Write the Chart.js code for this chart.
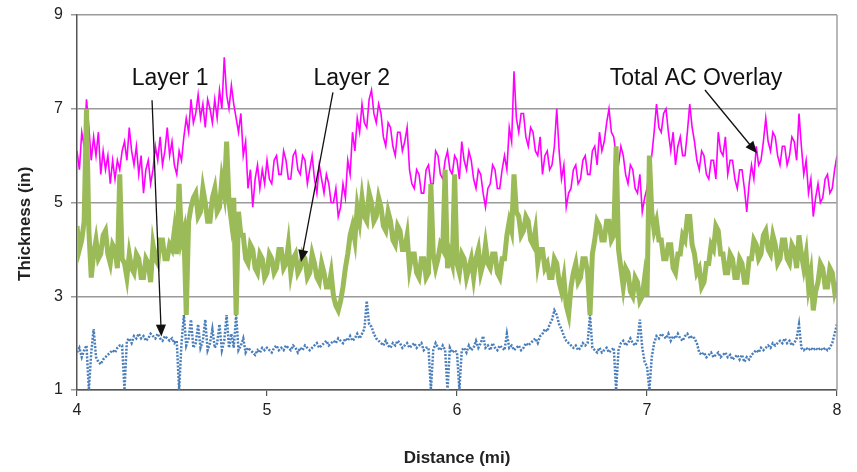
<!DOCTYPE html>
<html>
<head>
<meta charset="utf-8">
<title>Thickness vs distance</title>
<script src="https://cdn.jsdelivr.net/npm/chart.js@4.4.1/dist/chart.umd.min.js"></script>
<style>
  html, body { margin: 0; padding: 0; background: #fff; }
  #wrap { width: 857px; height: 472px; position: relative; }
</style>
</head>
<body>
<div id="wrap"><canvas id="thicknessChart"></canvas></div>
<script>
// readings every 0.0125 mi from 4 to 8
const startMi = 4;
const stepMi = 0.0125;

// Total AC Overlay (in)
const totalAC = [
  6.1, 5.7, 6.5, 6.2, 7.2, 6.6, 5.9, 6.4, 6.0, 6.5, 5.6, 6.1, 5.7, 6.0, 5.4, 5.9, 5.5, 5.9, 5.7, 6.1,
  6.3, 5.9, 6.6, 6.1, 5.8, 6.2, 5.6, 6.0, 5.2, 5.7, 5.9, 5.4, 5.7, 6.2, 5.9, 6.4, 5.8, 6.1, 6.6, 6.0,
  6.3, 5.8, 5.6, 6.1, 5.9, 6.4, 6.8, 6.5, 7.2, 6.7, 6.9, 7.3, 6.8, 7.1, 6.6, 7.2, 7.0, 6.7, 7.2, 6.8,
  7.4, 7.0, 8.1, 7.3, 7.0, 7.5, 7.1, 6.8, 6.5, 6.9, 6.0, 6.3, 5.3, 5.7, 4.9, 5.5, 5.8, 5.3, 5.7, 5.4,
  5.9, 5.5, 5.4, 5.9, 6.0, 5.6, 5.6, 6.1, 5.9, 5.5, 5.5, 6.0, 6.1, 5.7, 5.6, 6.0, 5.9, 5.4, 5.7, 6.0,
  5.5, 5.2, 5.8, 5.5, 5.2, 5.6, 5.4, 5.0, 5.0, 5.3, 4.7, 4.9, 5.4, 5.1, 5.9, 5.6, 6.5, 6.1, 6.8, 6.5,
  7.1, 6.7, 6.6, 7.2, 7.4, 6.9, 6.7, 7.1, 6.9, 6.4, 6.2, 6.7, 6.6, 6.2, 6.0, 6.5, 6.5, 6.1, 6.3, 6.6,
  5.7, 5.4, 5.3, 5.7, 5.6, 5.2, 5.2, 5.7, 5.8, 5.4, 5.4, 6.1, 6.0, 5.6, 5.5, 5.9, 6.1, 5.7, 5.6, 6.0,
  5.9, 5.5, 6.3, 5.9, 5.7, 6.1, 5.9, 5.5, 5.3, 5.7, 5.6, 5.2, 4.9, 5.3, 5.4, 5.8, 5.7, 5.3, 5.3, 5.7,
  6.0, 5.7, 6.6, 6.3, 7.8, 6.8, 6.5, 6.9, 6.9, 6.4, 6.2, 6.6, 6.5, 6.1, 6.0, 6.4, 5.6, 6.0, 6.1, 5.7,
  5.8, 6.2, 7.0, 6.1, 5.5, 5.8, 4.9, 5.2, 5.3, 5.7, 5.8, 5.4, 5.5, 5.9, 6.0, 5.6, 5.6, 6.1, 6.2, 5.8,
  6.5, 6.1, 6.3, 6.7, 7.0, 6.5, 6.4, 6.0, 5.8, 6.2, 6.0, 5.6, 5.4, 5.8, 5.7, 5.3, 5.2, 5.6, 4.8, 5.1,
  5.3, 5.7, 6.0, 6.5, 7.1, 6.6, 6.5, 6.9, 7.0, 6.5, 6.1, 6.5, 5.8, 6.2, 6.4, 6.0, 6.0, 6.5, 7.1, 6.6,
  6.3, 5.9, 5.7, 6.1, 6.0, 5.6, 5.5, 5.9, 5.9, 5.5, 6.5, 6.1, 6.0, 6.4, 5.6, 5.9, 5.9, 5.5, 5.3, 5.7,
  5.7, 5.3, 4.8, 5.4, 5.8, 5.5, 6.2, 5.8, 5.9, 6.3, 6.8, 6.3, 6.1, 6.5, 6.4, 6.0, 5.8, 6.2, 6.2, 5.8,
  6.0, 6.4, 6.3, 5.9, 6.9, 6.2, 5.6, 5.9, 5.2, 5.5, 4.7, 5.1, 5.4, 5.0, 5.1, 5.5, 5.6, 5.2, 5.3, 5.7,
  6.0
];

// Layer 2 (in)
const layer2 = [
  4.5, 4.0, 4.2, 4.6, 7.0, 4.4, 3.4, 3.9, 4.2, 3.8, 3.9, 4.3, 4.4, 3.9, 3.7, 4.1, 4.0, 3.6, 5.6, 3.8,
  3.7, 3.4, 3.9, 3.6, 3.5, 3.9, 3.8, 3.4, 3.4, 3.8, 3.7, 3.3, 4.1, 3.8, 3.7, 4.2, 4.2, 3.8, 3.8, 4.1,
  4.0, 4.4, 3.9, 5.4, 4.2, 4.4, 2.6, 4.6, 4.9, 5.1, 5.2, 4.7, 4.8, 5.3, 5.0, 4.6, 4.6, 5.1, 5.3, 4.8,
  4.9, 5.5, 5.2, 6.3, 5.0, 4.6, 5.1, 2.6, 4.8, 4.3, 4.3, 3.8, 3.7, 4.1, 4.0, 3.6, 3.5, 3.9, 3.8, 3.4,
  3.5, 3.9, 3.8, 3.5, 3.6, 4.0, 4.0, 3.6, 3.7, 4.1, 3.5, 3.8, 3.9, 3.5, 3.6, 3.9, 3.8, 3.4, 3.5, 3.9,
  3.7, 3.4, 3.3, 3.7, 3.5, 3.2, 3.2, 3.5, 3.0, 2.8, 2.7, 2.9, 3.2, 3.6, 3.9, 4.3, 4.5, 4.2, 4.9, 4.6,
  5.1, 4.7, 4.6, 5.2, 5.0, 4.6, 4.7, 5.1, 4.9, 4.5, 4.4, 4.8, 4.6, 4.2, 4.1, 4.5, 4.4, 4.0, 4.0, 4.3,
  3.6, 3.9, 3.9, 3.5, 3.4, 3.8, 3.8, 3.4, 3.5, 5.4, 3.9, 3.6, 3.8, 4.1, 4.0, 5.7, 3.6, 3.9, 3.7, 5.6,
  3.7, 3.5, 3.9, 3.8, 3.4, 3.6, 3.8, 3.4, 3.8, 4.0, 3.5, 3.7, 4.1, 3.7, 3.6, 3.9, 3.9, 3.5, 3.4, 3.8,
  3.8, 4.3, 4.6, 4.4, 5.6, 4.8, 4.7, 4.3, 4.4, 4.7, 4.6, 4.2, 4.1, 4.4, 3.7, 4.0, 4.0, 3.6, 3.7, 3.4,
  3.4, 3.8, 3.7, 3.3, 3.1, 3.4, 2.8, 2.6, 3.2, 3.5, 3.7, 3.3, 3.4, 3.8, 3.8, 3.5, 2.6, 3.9, 4.2, 4.6,
  4.5, 4.2, 4.2, 4.6, 4.6, 4.2, 4.3, 6.2, 4.0, 3.6, 3.2, 3.6, 3.5, 3.1, 3.0, 3.4, 3.3, 2.9, 3.0, 3.4,
  3.0, 6.0, 4.8, 4.4, 4.6, 4.2, 4.2, 3.8, 3.8, 4.1, 4.1, 3.6, 3.5, 3.9, 3.9, 4.3, 4.2, 4.7, 4.7, 4.1,
  3.9, 3.5, 3.6, 3.2, 3.3, 3.7, 3.7, 4.1, 4.0, 4.5, 4.4, 3.9, 3.9, 3.5, 3.5, 3.9, 3.8, 3.4, 3.4, 3.8,
  3.7, 3.3, 3.3, 3.8, 3.8, 4.2, 4.1, 3.8, 3.9, 4.3, 4.4, 4.0, 3.9, 4.3, 4.1, 3.7, 3.8, 4.2, 4.2, 3.8,
  3.7, 4.1, 4.0, 3.6, 4.3, 3.9, 3.6, 3.9, 3.2, 3.5, 2.7, 3.1, 3.3, 3.7, 3.6, 3.2, 3.2, 3.6, 3.5, 3.1,
  3.3
];

// Layer 1 (in)
const layer1 = [
  1.8, 1.9, 1.7, 1.85, 1.95, 1.0, 1.8, 2.3, 1.7, 1.6, 1.55, 1.65, 1.7, 1.75, 1.8, 1.85, 1.8, 1.9, 1.95, 1.95,
  1.0, 2.05, 2.1, 2.0, 2.15, 2.1, 2.2, 2.1, 2.15, 2.05, 2.1, 2.2, 2.15, 2.1, 2.2, 2.1, 2.05, 2.15, 2.1, 2.05,
  2.1, 2.0, 2.05, 1.0, 2.0, 2.6, 1.95, 2.1, 2.5, 1.9, 2.0, 2.4, 1.9, 2.05, 2.5, 1.85, 2.0, 2.3, 1.9, 2.0,
  2.4, 1.85, 2.05, 2.6, 1.9, 2.2, 1.9, 2.6, 1.85, 1.95, 2.1, 1.8, 1.9, 1.85, 1.8, 1.75, 1.85, 1.8, 1.9, 1.85,
  1.9, 1.85, 1.8, 1.9, 1.95, 1.85, 1.9, 1.85, 1.95, 1.9, 1.85, 1.95, 1.9, 1.8, 1.9, 1.85, 1.95, 1.9, 1.85, 1.9,
  1.95, 2.0, 1.9, 1.95, 2.0, 2.05, 1.95, 2.0, 2.05, 2.0, 2.1, 2.05, 2.0, 2.1, 2.05, 2.15, 2.05, 2.1, 2.2, 2.1,
  2.2, 2.3, 2.9, 2.4, 2.35, 2.2, 2.1, 2.05, 2.0, 1.95, 2.05, 1.95, 1.9, 2.0, 1.95, 2.05, 2.0, 1.9, 1.95, 2.0,
  1.9, 1.95, 2.0, 1.9, 1.95, 2.0, 1.85, 1.9, 1.9, 1.0, 1.85, 2.0, 1.9, 1.85, 1.95, 1.85, 1.0, 1.9, 1.8, 1.85,
  1.8, 1.0, 1.85, 1.9, 1.8, 1.95, 1.85, 1.9, 2.05, 1.9, 2.0, 2.15, 1.9, 1.95, 1.85, 2.0, 1.9, 1.85, 1.95, 1.9,
  1.85, 2.2, 1.9, 1.95, 1.85, 1.9, 1.95, 1.85, 1.9, 2.0, 1.95, 2.0, 2.05, 2.1, 2.0, 2.15, 2.2, 2.3, 2.25, 2.4,
  2.5, 2.7, 2.6, 2.4, 2.3, 2.15, 2.05, 2.0, 1.95, 1.9, 1.95, 1.85, 1.9, 2.0, 1.95, 2.0, 2.6, 1.9, 1.85, 1.8,
  1.9, 1.8, 1.85, 1.9, 1.8, 1.85, 1.9, 1.0, 1.85, 2.0, 2.05, 1.95, 2.0, 2.1, 2.0, 1.95, 2.05, 2.5, 1.9, 1.6,
  1.5, 1.0, 1.7, 2.0, 2.15, 2.1, 2.2, 2.15, 2.1, 2.2, 2.05, 2.15, 2.1, 2.2, 2.1, 2.05, 2.15, 2.2, 2.1, 2.15,
  2.1, 2.0, 1.8, 1.75, 1.8, 1.7, 1.75, 1.8, 1.7, 1.75, 1.8, 1.7, 1.75, 1.8, 1.7, 1.75, 1.65, 1.7, 1.75, 1.65,
  1.75, 1.6, 1.7, 1.65, 1.75, 1.8, 1.85, 1.8, 1.9, 1.85, 1.9, 1.95, 1.9, 2.0, 1.95, 2.0, 2.05, 2.0, 2.1, 2.0,
  2.05, 1.95, 2.0, 2.1, 2.4, 1.9, 1.85, 1.9, 1.85, 1.9, 1.85, 1.9, 1.85, 1.9, 1.85, 1.9, 1.85, 1.9, 2.0, 2.2,
  2.4
];

const xTicks = [4, 5, 6, 7, 8];
const yTicks = [1, 3, 5, 7, 9];

// callouts: label position and arrow (from -> to) in data units
const callouts = [
  { text: 'Layer 1', at: [4.49, 7.65], from: [4.395, 7.18], to: [4.444, 2.14] },
  { text: 'Layer 2', at: [5.446, 7.65], from: [5.347, 7.35], to: [5.179, 3.73] },
  { text: 'Total AC Overlay', at: [7.258, 7.65], from: [7.305, 7.40], to: [7.579, 6.05] }
];

const distance = totalAC.map((_, i) => +(startMi + i * stepMi).toFixed(4));
const toPoints = arr => arr.map((v, i) => ({ x: distance[i], y: v }));

const calloutPlugin = {
  id: 'callouts',
  afterDatasetsDraw(chart) {
    const { ctx, chartArea, scales: { x, y } } = chart;
    ctx.save();
    // right frame line
    ctx.strokeStyle = '#a0a0a0';
    ctx.lineWidth = 1.5;
    ctx.beginPath();
    ctx.moveTo(chartArea.right, chartArea.top);
    ctx.lineTo(chartArea.right, chartArea.bottom);
    ctx.stroke();

    ctx.font = '23px "Liberation Sans", Arial, sans-serif';
    ctx.textAlign = 'center';
    ctx.textBaseline = 'middle';
    callouts.forEach(c => {
      ctx.fillStyle = '#111';
      ctx.fillText(c.text, x.getPixelForValue(c.at[0]), y.getPixelForValue(c.at[1]));
      const x1 = x.getPixelForValue(c.from[0]), y1 = y.getPixelForValue(c.from[1]);
      const x2 = x.getPixelForValue(c.to[0]), y2 = y.getPixelForValue(c.to[1]);
      const ang = Math.atan2(y2 - y1, x2 - x1);
      const head = 13;
      ctx.strokeStyle = '#111';
      ctx.lineWidth = 1.3;
      ctx.beginPath();
      ctx.moveTo(x1, y1);
      ctx.lineTo(x2 - Math.cos(ang) * head * 0.8, y2 - Math.sin(ang) * head * 0.8);
      ctx.stroke();
      ctx.beginPath();
      ctx.moveTo(x2, y2);
      ctx.lineTo(x2 - head * Math.cos(ang - 0.4), y2 - head * Math.sin(ang - 0.4));
      ctx.lineTo(x2 - head * Math.cos(ang + 0.4), y2 - head * Math.sin(ang + 0.4));
      ctx.closePath();
      ctx.fill();
    });
    ctx.restore();
  }
};

new Chart(document.getElementById('thicknessChart'), {
  type: 'line',
  data: {
    datasets: [
      {
        label: 'Layer 1',
        data: toPoints(layer1),
        borderColor: '#4a7ebb',
        borderWidth: 2.5,
        borderDash: [2, 1.5],
        pointRadius: 0,
        tension: 0,
        order: 1
      },
      {
        label: 'Layer 2',
        data: toPoints(layer2),
        borderColor: '#9bbb59',
        borderWidth: 5,
        pointRadius: 0,
        tension: 0,
        order: 2
      },
      {
        label: 'Total AC Overlay',
        data: toPoints(totalAC),
        borderColor: '#ff00ff',
        borderWidth: 1.6,
        pointRadius: 0,
        tension: 0,
        order: 3
      }
    ]
  },
  options: {
    responsive: true,
    maintainAspectRatio: false,
    animation: false,
    layout: { padding: { left: 0, right: 20, top: 15, bottom: 0 } },
    plugins: {
      legend: { display: false },
      tooltip: { enabled: false }
    },
    scales: {
      x: {
        type: 'linear',
        min: 4,
        max: 8,
        afterBuildTicks: s => { s.ticks = xTicks.map(v => ({ value: v })); },
        afterFit: s => { s.height = 82; },
        ticks: {
          color: '#222',
          padding: 5,
          font: { family: '"Liberation Sans", Arial, sans-serif', size: 16 }
        },
        grid: { drawOnChartArea: false, drawTicks: true, tickLength: 6, color: '#555', lineWidth: 1.2 },
        border: { color: '#555', width: 1.5 },
        title: {
          display: true,
          text: 'Distance (mi)',
          color: '#222',
          padding: { top: 0, bottom: 3 },
          font: { family: '"Liberation Sans", Arial, sans-serif', size: 17, weight: 'bold' }
        }
      },
      y: {
        min: 1,
        max: 9,
        afterBuildTicks: s => { s.ticks = yTicks.map(v => ({ value: v })); },
        afterFit: s => { s.width = 77; s.paddingTop = 0; s.paddingBottom = 0; },
        ticks: {
          color: '#222',
          padding: 8,
          font: { family: '"Liberation Sans", Arial, sans-serif', size: 16 }
        },
        grid: { color: '#9a9a9a', lineWidth: 1.5, tickLength: 6 },
        border: { color: '#555', width: 1.5 },
        title: {
          display: true,
          // trailing spaces nudge the title down to where the original sits
          text: 'Thickness (in)         ',
          color: '#222',
          padding: { top: 15, bottom: 0 },
          font: { family: '"Liberation Sans", Arial, sans-serif', size: 17, weight: 'bold' }
        }
      }
    }
  },
  plugins: [calloutPlugin]
});
</script>
</body>
</html>
